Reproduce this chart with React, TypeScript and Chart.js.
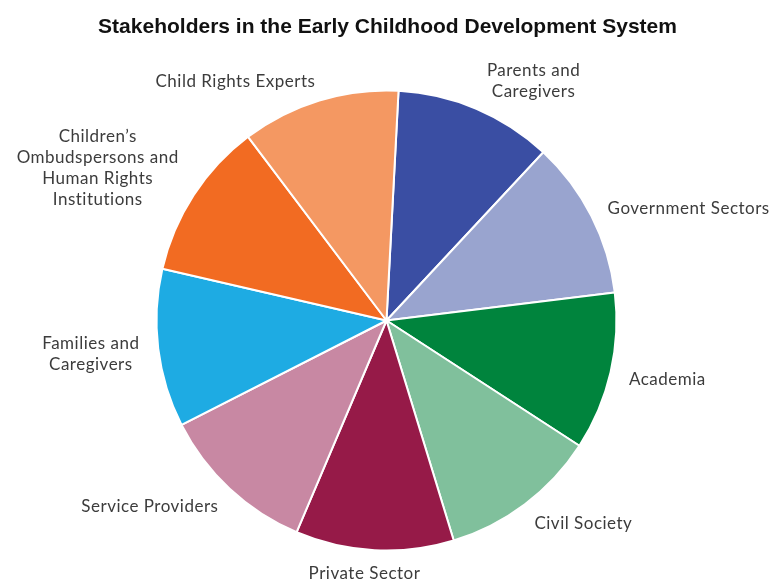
import React, { useEffect, useRef } from "react";
import { Chart, registerables } from "chart.js";

Chart.register(...registerables);

const TITLE = "Stakeholders in the Early Childhood Development System";
const categories: string[][] = [
  ["Parents and", "Caregivers"],
  ["Government Sectors"],
  ["Academia"],
  ["Civil Society"],
  ["Private Sector"],
  ["Service Providers"],
  ["Families and", "Caregivers"],
  ["Children\u2019s", "Ombudspersons and", "Human Rights", "Institutions"],
  ["Child Rights Experts"],
];
const values: number[] = [1, 1, 1, 1, 1, 1, 1, 1, 1];
const colors: string[] = [
  "#3a4ea3",
  "#99a4cf",
  "#00843d",
  "#80c09c",
  "#961a48",
  "#c888a3",
  "#1eabe3",
  "#f26b22",
  "#f49862",
];

const LABEL_FONT = "17px Lato";
const LINE_H = 21;

const labelPlugin = {
  id: "outsideLabels",
  afterDraw(chart: any) {
    const ctx = chart.ctx;
    const meta = chart.getDatasetMeta(0);
    ctx.save();
    // title
    ctx.fillStyle = "#111111";
    ctx.font = "bold 21px 'Liberation Sans'";
    ctx.textAlign = "center";
    ctx.textBaseline = "middle";
    ctx.fillText(TITLE, chart.width / 2, 27);

    ctx.font = LABEL_FONT;
    (ctx as any).letterSpacing = "0.5px";
    ctx.fillStyle = "#3c3c3c";
    meta.data.forEach((arc: any, i: number) => {
      const { x, y, startAngle, endAngle, outerRadius } = arc.getProps(
        ["x", "y", "startAngle", "endAngle", "outerRadius"],
        true
      );
      const mid = (startAngle + endAngle) / 2;
      const c = Math.cos(mid);
      const s = Math.sin(mid);
      const r = outerRadius + 11;
      const up = -s;
      const right = c;
      const ax = x + c * r + right * 8 * Math.abs(right) + (right > 0.2 && up > 0.5 ? 5 : 0);
      const ay = y + s * r + 2;
      const lines = categories[i];
      const w = Math.max(...lines.map((l) => ctx.measureText(l).width));
      const h = lines.length * LINE_H;
      let left: number;
      if (right > 0.2) left = ax;
      else if (right < -0.2) left = ax - w;
      else left = ax - w / 2 + w * right * 1.6;
      const top = ay - (h * (1 + up)) / 2;
      ctx.textAlign = "center";
      ctx.textBaseline = "middle";
      lines.forEach((l, k) => {
        ctx.fillText(l, left + w / 2, top + LINE_H * k + LINE_H / 2);
      });
    });
    ctx.restore();
  },
};

export default function App() {
  const ref = useRef<HTMLCanvasElement | null>(null);
  useEffect(() => {
    document.body.style.margin = "0";
    const chart = new Chart(ref.current as HTMLCanvasElement, {
      type: "pie",
      data: {
        labels: categories.map((c) => c.join(" ")),
        datasets: [
          {
            data: values,
            backgroundColor: colors,
            borderColor: "#ffffff",
            borderWidth: 2,
          },
        ],
      },
      options: {
        animation: false,
        responsive: false,
        rotation: 3,
        radius: 230,
        layout: { padding: { top: 91, bottom: 29, left: 99, right: 101 } },
        plugins: {
          legend: { display: false },
          tooltip: { enabled: false },
          title: { display: false },
        },
      },
      plugins: [labelPlugin],
    });
    return () => chart.destroy();
  }, []);
  return <canvas ref={ref} width={775} height={579} style={{ display: "block" }} />;
}
